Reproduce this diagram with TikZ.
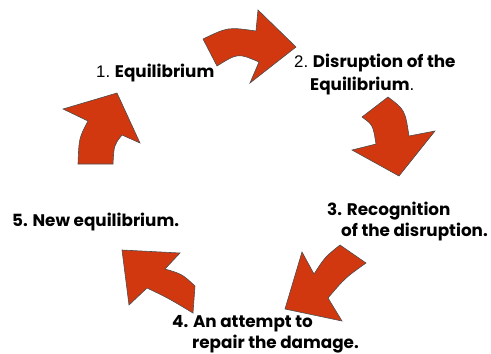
\documentclass[tikz,border=0pt]{standalone}
\usepackage{fontspec}
\setmainfont{Poppins}
\newfontfamily\numfont{Liberation Sans}
\definecolor{arrowred}{RGB}{210,56,16}

\begin{document}
\begin{tikzpicture}
  [x=1pt,y=-1pt,
   cyclearrow/.style={fill=arrowred,draw=black!70,line width=.6pt,line join=miter},
   steptext/.style={anchor=west,inner sep=0pt,font=\fontsize{16.8}{18}\selectfont\bfseries}]
  \useasboundingbox (0,0) rectangle (491,354);

  % Flechas del ciclo (1 -> 2 -> 3 -> 4 -> 5 -> 1)
  \draw[cyclearrow] (203,39) .. controls (228,27) .. (256,31) -- (258,10) -- (296,47)
    -- (250,83) -- (259,62) .. controls (238,53) .. (217,66) -- cycle;
  \draw[cyclearrow] (388,97) -- (362,117) .. controls (373,125) .. (376,144) -- (352,150)
    -- (399,176) -- (435,131) -- (409,136) .. controls (405,110) .. cycle;
  \draw[cyclearrow] (340,245) -- (366,263) .. controls (345,278) .. (328,298) -- (342,321)
    -- (285,309) -- (302,252) -- (314,274) .. controls (325,257) .. cycle;
  \draw[cyclearrow] (195,286) -- (193,313) .. controls (168,298) .. (147,288) -- (129,305)
    -- (122,250) -- (180,253) -- (165,269) .. controls (182,274) .. cycle;
  \draw[cyclearrow] (78,164) -- (113,164) .. controls (114,145) .. (122,135) -- (140,143)
    -- (117,93) -- (63,109) -- (88,121) .. controls (79,138) .. cycle;

  % Etapas
  \node[steptext] (s1) at (96,73) {{\numfont\mdseries 1.} Equilibrium};
  \node[steptext] (s2a) at (294,63) {{\numfont\mdseries 2.} Disruption of the};
  \node[steptext] (s2b) at (310,86) {Equilibrium{\numfont\mdseries .}};
  \node[steptext] (s3a) at (327,211) {3. Recognition};
  \node[steptext] (s3b) at (341,232) {of the disruption.};
  \node[steptext] (s4a) at (172,324) {4. An attempt to};
  \node[steptext] (s4b) at (192,344) {repair the damage.};
  \node[steptext] (s5) at (12,222) {5. New equilibrium.};

\end{tikzpicture}
\end{document}
